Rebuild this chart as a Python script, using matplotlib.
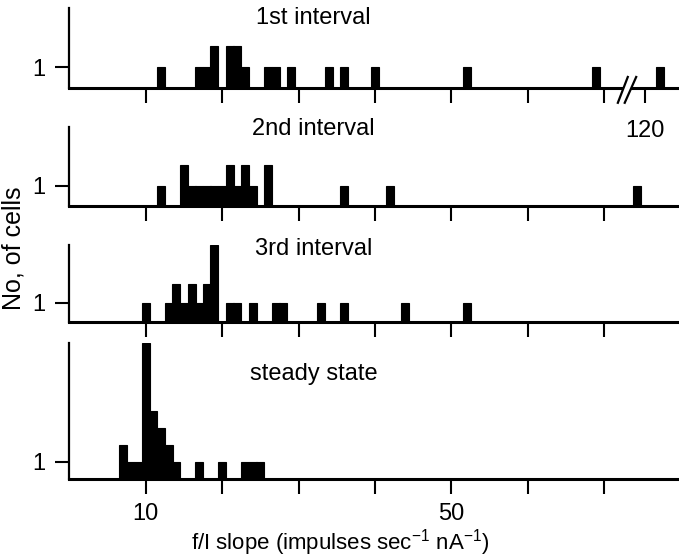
import numpy as np
import matplotlib
matplotlib.use("Agg")
import matplotlib.pyplot as plt
from matplotlib.patches import Polygon

plt.rcParams['font.family'] = ['Liberation Sans', 'DejaVu Sans']
plt.rcParams['mathtext.fontset'] = 'custom'
plt.rcParams['mathtext.rm'] = 'Liberation Sans'
plt.rcParams['mathtext.default'] = 'regular'

# f/I slope bins (impulses/sec/nA) and cell counts for each interval
slope1 = [12, 17, 18, 19, 21, 22, 23, 26, 27, 29, 34, 36, 40, 52, 69, 122]
cells1 = [1, 1, 1, 2, 2, 2, 1, 1, 1, 1, 1, 1, 1, 1, 1, 1]

slope2 = [12, 15, 16, 17, 18, 19, 20, 21, 22, 23, 24, 26, 36, 42, 119]
cells2 = [1, 2, 1, 1, 1, 1, 1, 2, 1, 2, 1, 2, 1, 1, 1]

slope3 = [10, 13, 14, 15, 16, 17, 18, 19, 21, 22, 24, 27, 28, 33, 36, 44, 52]
cells3 = [1, 1, 2, 1, 2, 1, 2, 4, 1, 1, 1, 1, 1, 1, 1, 1, 1]

slope4 = [7, 8, 9, 10, 11, 12, 13, 14, 17, 20, 23, 24, 25]
cells4 = [2, 1, 1, 8, 4, 3, 2, 1, 1, 1, 1, 1, 1]

titles = ["1st interval", "2nd interval", "3rd interval", "steady state"]
tick_vals = [10, 20, 30, 40, 50, 60, 70]


def brk(v):
    # values past the axis break are squeezed in next to 70
    v = np.asarray(v, dtype=float)
    return np.where(v > 100, 75.3 + (v - 120), v)


W, H = 679, 559
fig = plt.figure(figsize=(W / 100, H / 100), dpi=100)

# panel boxes in pixels: (top, bottom)
boxes = [(8.3, 87.7), (126.7, 206.0), (245.0, 322.0), (343.0, 479.0)]
ylims = [3.85, 3.87, 4.0, 8.0]
title_y = [0.884, 0.97, 0.948, 0.772]
data = [(slope1, cells1), (slope2, cells2), (slope3, cells3), (slope4, cells4)]
left = 69.3
fs = 17

axes = []
for i, ((top, bot), (s, c)) in enumerate(zip(boxes, data)):
    ax = fig.add_axes([left / W, 1 - bot / H, 1 - left / W, (bot - top) / H])
    ax.set_facecolor('none')
    ax.bar(brk(s), c, width=1.05, color='black', edgecolor='black',
           linewidth=0.8, align='center')
    ax.set_xlim(0, (W - left) / 7.64)
    ax.set_ylim(0, ylims[i])
    for side in ['top', 'right']:
        ax.spines[side].set_visible(False)
    ax.spines['left'].set_linewidth(1.6)
    ax.spines['bottom'].set_linewidth(2.2)
    ax.set_yticks([1])
    ax.set_yticklabels(['1'])
    ax.tick_params(axis='y', direction='out', length=10, width=1.5,
                   labelsize=fs, pad=7)
    ax.tick_params(axis='x', direction='out', length=10.5, width=1.5,
                   labelsize=fs, pad=7)
    ax.set_xticks(tick_vals)
    ax.set_xticklabels([''] * len(tick_vals))
    ax.text(32, title_y[i], titles[i], transform=ax.get_xaxis_transform(),
            ha='center', va='center', fontsize=fs)
    axes.append(ax)

# top panel carries the 120 tick beyond the break
ax1 = axes[0]
ax1.set_xticks(tick_vals + [float(brk(120))])
ax1.set_xticklabels([''] * len(tick_vals) + ['120'])
ax1.tick_params(axis='x', pad=13)
ax1.set_zorder(5)

# break marks on the top axis
tr = ax1.get_xaxis_transform()
ax1.add_patch(Polygon([[71.8, -0.19], [72.7, -0.19], [74.2, 0.135], [73.1, 0.135]],
                      closed=True, facecolor='white', edgecolor='none',
                      transform=tr, clip_on=False, zorder=5))
for x0, x1 in [(71.8, 73.1), (72.7, 74.2)]:
    ax1.plot([x0, x1], [-0.19, 0.135], color='black', lw=1.6,
             transform=tr, clip_on=False, zorder=6)

# bottom panel labels only 10 and 50
axes[3].set_xticklabels(['10', '', '', '', '50', '', ''])

fig.text(14 / W, 1 - 248 / H, "No, of cells", rotation=90,
         ha='center', va='center', fontsize=18)
fig.text(340 / W, 1 - 543 / H, "f/I slope (impulses sec$^{-1}$ nA$^{-1}$)",
         ha='center', va='center', fontsize=16)

fig.savefig("out.png", dpi=100)
